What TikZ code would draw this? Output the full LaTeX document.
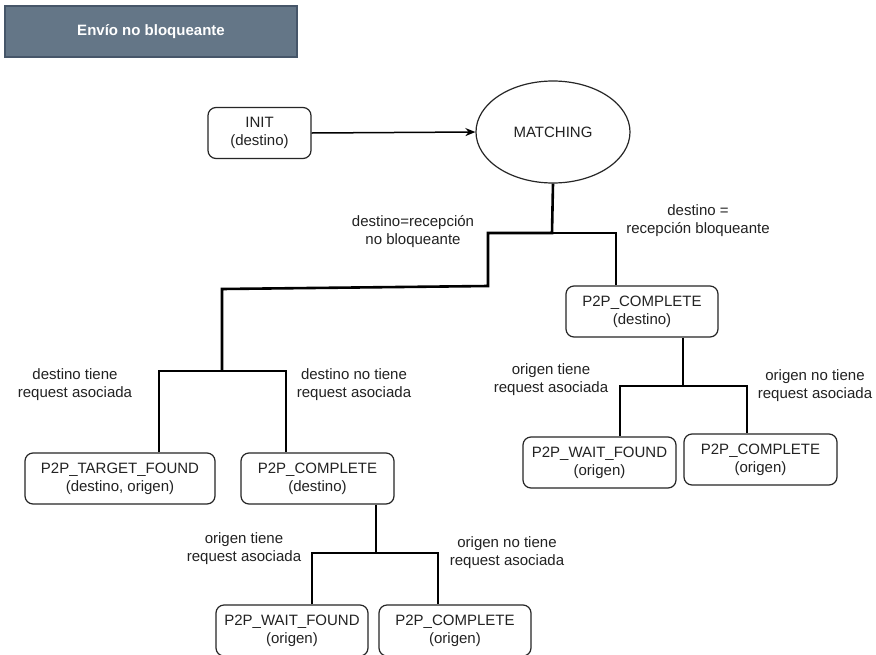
\documentclass[tikz,border=0pt]{standalone}
\usepackage{fontspec}
\setmainfont{Liberation Sans}
\usetikzlibrary{shapes.geometric,arrows.meta}
\definecolor{titlefill}{HTML}{647687}
\definecolor{titledraw}{HTML}{465669}
\definecolor{txt}{HTML}{222222}
\tikzset{
  box/.style={draw=black!85, line width=1.2pt, rounded corners=8pt, minimum height=51pt, align=center, inner sep=0pt, font=\fontsize{15}{18}\selectfont, text=txt},
  lab/.style={align=center, inner sep=0pt, font=\fontsize{15}{18}\selectfont, text=txt},
  conn/.style={line width=2.6pt, line join=miter},
  arr/.style={line width=1.5pt, -{Stealth[length=10pt,width=8pt]}},
}
\begin{document}
\begin{tikzpicture}[x=1pt,y=-1pt]
\clip (0,0) rectangle (876,654);
\fill[white] (0,0) rectangle (876,654);
% title
\node[draw=titledraw, fill=titlefill, line width=1.2pt, minimum width=292pt, minimum height=51pt, inner sep=0pt, text=white, font=\fontsize{15}{18}\selectfont\bfseries] (title) at (151,31.5) {Envío no bloqueante};
% nodes
\node[box, minimum width=103pt] (init) at (259.5,133) {INIT\\(destino)};
\node[ellipse, draw=black!85, line width=1.2pt, minimum width=154pt, minimum height=102pt, inner sep=0pt, font=\fontsize{15}{18}\selectfont, text=txt] (match) at (553,132) {MATCHING};
\node[box, minimum width=152pt] (cd) at (642,311.5) {P2P\_COMPLETE\\(destino)};
\node[box, minimum width=153pt] (wfr) at (599.5,462.5) {P2P\_WAIT\_FOUND\\(origen)};
\node[box, minimum width=153pt] (cor) at (760.5,459.5) {P2P\_COMPLETE\\(origen)};
\node[box, minimum width=190pt] (tf) at (120,478.5) {P2P\_TARGET\_FOUND\\(destino, origen)};
\node[box, minimum width=153pt] (cdl) at (317.5,478.5) {P2P\_COMPLETE\\(destino)};
\node[box, minimum width=152pt] (wfb) at (292,630.5) {P2P\_WAIT\_FOUND\\(origen)};
\node[box, minimum width=152pt] (cob) at (455,630.5) {P2P\_COMPLETE\\(origen)};
% labels
\node[lab] (l1) at (413,232) {destino=recepción\\no bloqueante};
\node[lab] (l2) at (698,221) {destino =\\recepción bloqueante};
\node[lab] (l3) at (75,385) {destino tiene\\request asociada};
\node[lab] (l4) at (354,385) {destino no tiene\\request asociada};
\node[lab] (l5) at (551,380) {origen tiene\\request asociada};
\node[lab] (l6) at (815,386) {origen no tiene\\request asociada};
\node[lab] (l7) at (244,549) {origen tiene\\request asociada};
\node[lab] (l8) at (507,553) {origen no tiene\\request asociada};
% junction coordinates
\coordinate (m1) at (552,233);
\coordinate (xr) at (616,0);
\coordinate (xl) at (488,0);
\coordinate (a1) at (488,286);
\coordinate (a2) at (222,289);
\coordinate (a3) at (222,371);
\coordinate (xtf) at (159,0);
\coordinate (xcdl) at (286,0);
\coordinate (b1) at (683,386);
\coordinate (xwfr) at (620,0);
\coordinate (xcor) at (747,0);
\coordinate (c1) at (376,553);
\coordinate (xwfb) at (312,0);
\coordinate (xcob) at (438,0);
% connectors
\draw[arr] (init.east) -- (match.west);
\draw[conn] (match.south) -- (m1) -| (a1) -- (a2) -- (a3);
\draw[conn] (m1) -| (cd.north -| xr);
\draw[conn] (tf.north -| xtf) |- (a3) -| (cdl.north -| xcdl);
\draw[conn] (cd.south -| b1) -- (b1);
\draw[conn] (wfr.north -| xwfr) |- (b1) -| (cor.north -| xcor);
\draw[conn] (cdl.south -| c1) -- (c1);
\draw[conn] (wfb.north -| xwfb) |- (c1) -| (cob.north -| xcob);
\end{tikzpicture}
\end{document}
